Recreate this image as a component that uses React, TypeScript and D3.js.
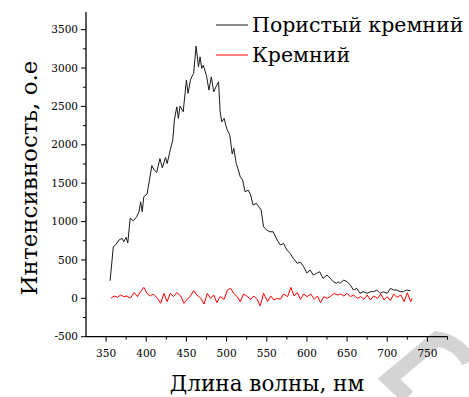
import React from "react";
import * as d3 from "d3";

// Porous silicon PL spectrum: [wavelength nm, intensity a.u.]
const porousSi: [number, number][] = [
  [355, 229], [359, 672], [362, 698], [366, 759], [370, 781], [372, 737],
  [375, 794], [377, 720], [380, 1042], [384, 1010], [388, 1062], [391, 1128],
  [393, 1258], [395, 1128], [397, 1323], [401, 1358], [404, 1540], [407, 1730],
  [410, 1671], [413, 1640], [417, 1820], [420, 1700], [424, 1835], [426, 1755],
  [430, 1940], [433, 2061], [435, 2322], [438, 2495], [440, 2344], [442, 2504],
  [446, 2430], [450, 2842], [452, 2669], [455, 2842], [457, 2894], [459, 2930],
  [462, 3285], [465, 3016], [467, 3146], [469, 2995], [471, 3037], [475, 2900],
  [478, 2712], [481, 2885], [484, 2690], [487, 2760], [490, 2820], [492, 2430],
  [494, 2299], [497, 2344], [500, 2214], [504, 2126], [507, 1880], [509, 1953],
  [512, 1758], [514, 1693], [517, 1583], [520, 1540], [523, 1388], [527, 1410],
  [530, 1345], [533, 1215], [537, 1237], [540, 1193], [543, 1150], [546, 932],
  [550, 889], [554, 867], [558, 867], [563, 759], [567, 694], [571, 716],
  [575, 629], [579, 586], [583, 521], [588, 456], [592, 470], [596, 411],
  [600, 330], [604, 368], [608, 303], [612, 326], [616, 346], [620, 260],
  [625, 303], [629, 260], [633, 216], [637, 195], [639, 216], [641, 195],
  [646, 238], [650, 216], [654, 173], [658, 108], [662, 130], [666, 65],
  [670, 86], [675, 65], [679, 86], [683, 86], [687, 108], [691, 65],
  [695, 86], [700, 65], [704, 130], [708, 108], [712, 108], [716, 86],
  [720, 86], [724, 108], [729, 99],
];

// Bulk silicon reference
const bulkSi: [number, number][] = [
  [356, 0], [360, 30], [364, 13], [368, 43], [372, 22], [376, 30], [380, 0],
  [385, 74], [389, 22], [393, 87], [397, 143], [401, 65], [405, 30], [409, 56],
  [414, 0], [418, -65], [422, 65], [426, -43], [430, 65], [434, 22], [438, 74],
  [443, 30], [447, -65], [451, -13], [455, 30], [459, 100], [463, 43], [468, 0],
  [472, -74], [476, 65], [480, 0], [484, 43], [488, -56], [492, 22], [497, -13],
  [501, 108], [505, 130], [509, 65], [513, 22], [517, -43], [521, 56], [526, 22],
  [530, -13], [534, 30], [538, -13], [542, -100], [546, 65], [551, -40],
  [555, 30], [559, -22], [563, 0], [567, -13], [571, 56], [576, 22], [580, 143],
  [584, 30], [588, 74], [592, -13], [596, 56], [600, 22], [605, 56], [609, -13],
  [613, 30], [617, -56], [621, 22], [625, 0], [629, 22], [634, 65], [638, 43],
  [642, 56], [646, 30], [650, 65], [654, 22], [658, 43], [663, 0], [667, 22],
  [671, -13], [675, 43], [679, -22], [683, 30], [688, 0], [692, 56], [696, -22],
  [700, 22], [704, -30], [708, 56], [712, 13], [717, 43], [721, -43], [725, 74],
  [729, -43], [731, 0],
];

const xMajor = [350, 400, 450, 500, 550, 600, 650, 700, 750];
const xMinor = [375, 425, 475, 525, 575, 625, 675, 725, 775];
const yMajor = [-500, 0, 500, 1000, 1500, 2000, 2500, 3000, 3500];
const yMinor = [-250, 250, 750, 1250, 1750, 2250, 2750, 3250];

const seriesNames = ["Пористый кремний", "Кремний"];
const seriesColors = ["#1a1a1a", "#ff0000"];

const FONT = "DejaVu Serif";

const x = d3.scaleLinear().domain([325, 775]).range([86, 447.5]);
const y = d3.scaleLinear().domain([-500, 3730]).range([336.7, 12]);

const line = d3
  .line<[number, number]>()
  .x((d) => x(d[0]))
  .y((d) => y(d[1]));

export default function App() {
  const x0 = x.range()[0];
  const y0 = y.range()[0];
  return (
    <svg
      width={469}
      height={397}
      style={{position: "absolute", left: 0, top: 0, background: "#fff"}}
    >
      {/* watermark */}
      <path
        d="M 408 397 L 389 379 L 437 339 A 42 42 0 0 1 469 362"
        fill="none"
        stroke="#d4d4d4"
        strokeWidth={15}
      />

      {[porousSi, bulkSi].map((s, i) => (
        <path
          key={i}
          d={line(s) || ""}
          fill="none"
          stroke={seriesColors[i]}
          strokeWidth={1}
        />
      ))}

      {/* x axis */}
      <g transform={`translate(0,${y0})`}>
        <line x1={x0} x2={x.range()[1]} stroke="#000" strokeWidth={1.3} />
        {xMajor.map((v) => (
          <g key={v} transform={`translate(${x(v)},0)`}>
            <line y2={5} stroke="#000" />
            <text
              y={20}
              textAnchor="middle"
              fontFamily={FONT}
              fontSize={10.5}
            >
              {v}
            </text>
          </g>
        ))}
        {xMinor.map((v) => (
          <line key={v} x1={x(v)} x2={x(v)} y2={3} stroke="#000" />
        ))}
      </g>

      {/* y axis */}
      <g transform={`translate(${x0},0)`}>
        <line y1={y.range()[1]} y2={y0} stroke="#000" strokeWidth={1.3} />
        {yMajor.map((v) => (
          <g key={v} transform={`translate(0,${y(v)})`}>
            <line x2={-5} stroke="#000" />
            <text
              x={-8}
              dy="0.35em"
              textAnchor="end"
              fontFamily={FONT}
              fontSize={10.5}
            >
              {v}
            </text>
          </g>
        ))}
        {yMinor.map((v) => (
          <line key={v} y1={y(v)} y2={y(v)} x2={-3} stroke="#000" />
        ))}
      </g>

      {/* axis titles */}
      <text
        x={267}
        y={391}
        textAnchor="middle"
        fontFamily={FONT}
        fontSize={21.5}
      >
        Длина волны, нм
      </text>
      <text
        transform="translate(37,178) rotate(-90)"
        textAnchor="middle"
        fontFamily={FONT}
        fontSize={23}
      >
        Интенсивность, о.е
      </text>

      {/* legend */}
      {seriesNames.map((name, i) => (
        <g key={name} transform={`translate(216,${25 + i * 30})`}>
          <line x2={32} stroke={seriesColors[i]} strokeWidth={1} />
          <text x={36} y={6.5} fontFamily={FONT} fontSize={20.5}>
            {name}
          </text>
        </g>
      ))}
    </svg>
  );
}
